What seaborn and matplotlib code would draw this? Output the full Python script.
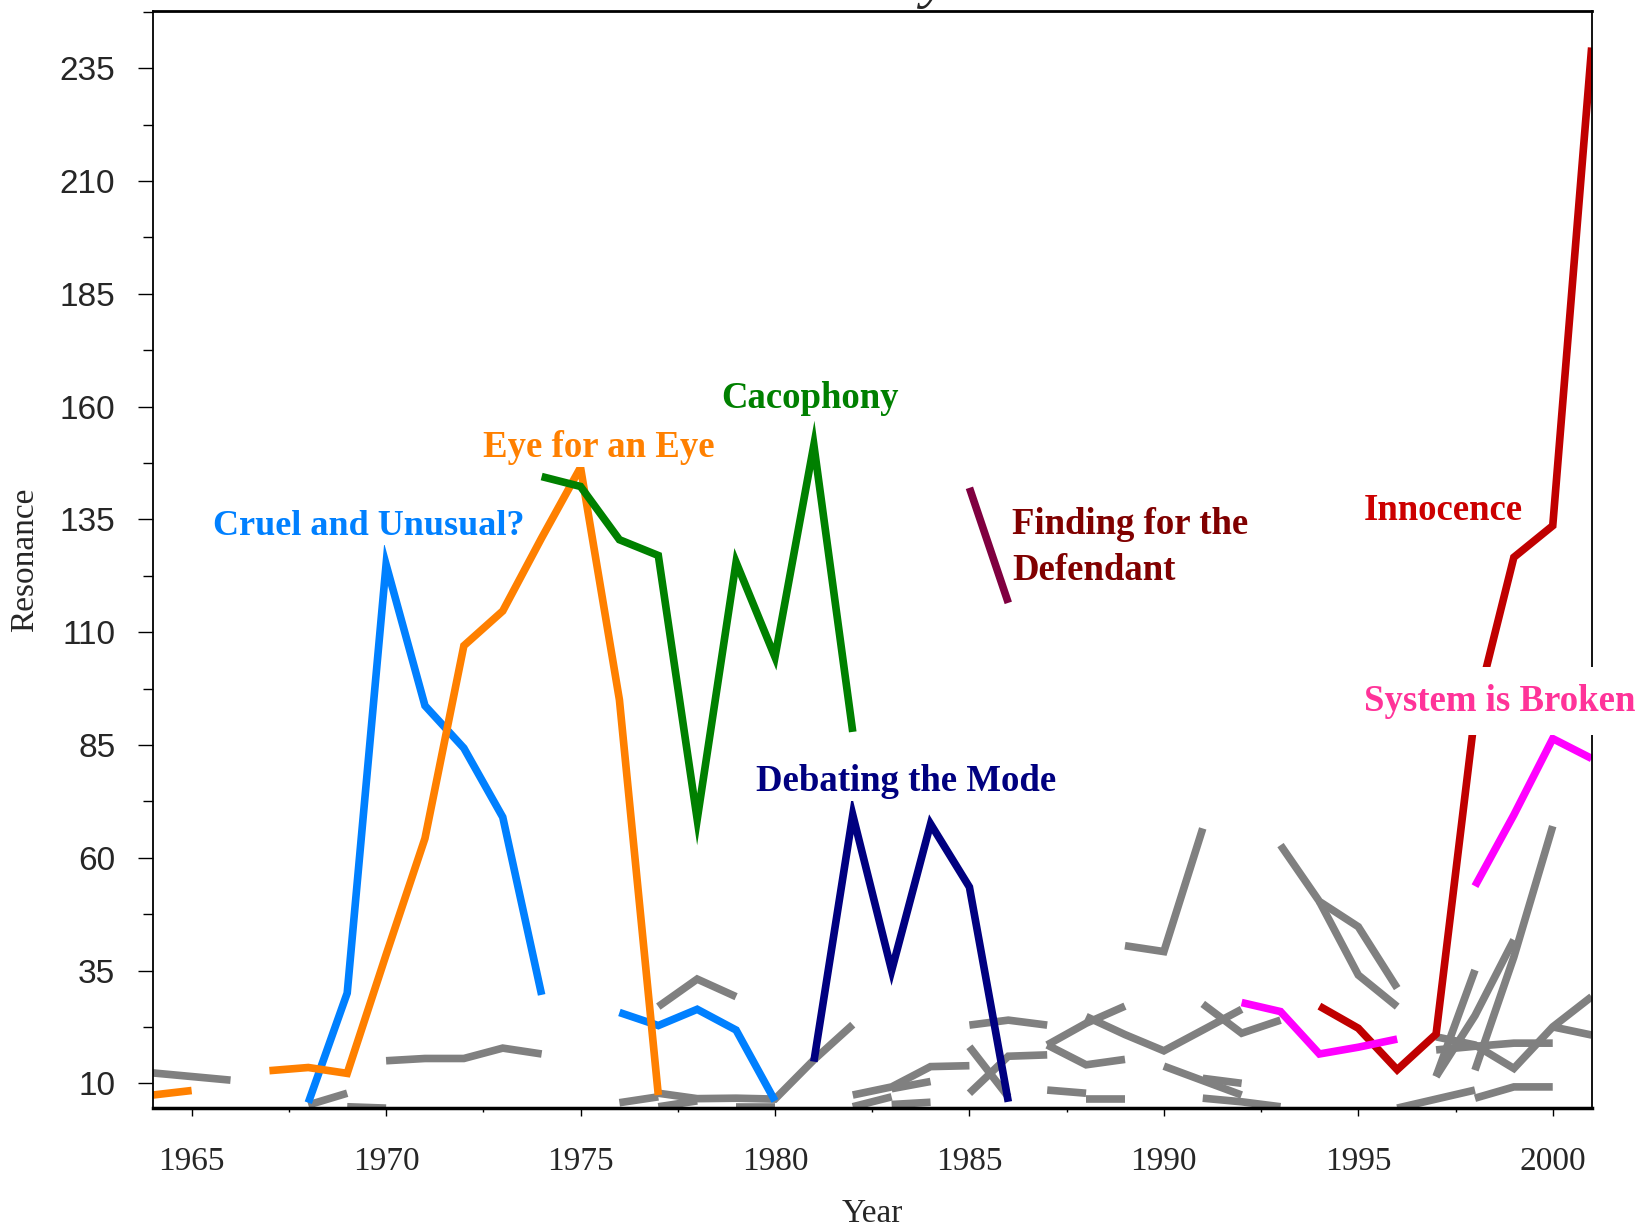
import numpy as np
import pandas as pd
import matplotlib
matplotlib.use("Agg")
import matplotlib.pyplot as plt
import seaborn as sns

# ---------------- data: (first year, values) per contiguous segment ----------------
cruel_unusual = [(1968, [5.7, 30.0, 125.0, 93.7, 84.3, 69.0, 29.6]),
                 (1976, [25.7, 22.8, 26.4, 21.8, 6.1])]
eye_for_eye = [(1964, [7.4, 8.4]),
               (1967, [12.8, 13.5, 12.2, 38.5, 64.3, 107.0, 114.7, 130.9, 146.5, 95.0, 7.4])]
cacophony = [(1974, [144.5, 142.3, 130.5, 127.0, 68.5, 125.5, 104.5, 151.5, 87.9])]
debating_mode = [(1981, [14.8, 69.5, 35.0, 67.5, 53.5, 5.9])]
finding_defendant = [(1985, [142.0, 116.5])]
innocence = [(1994, [27.1, 22.2, 13.0, 20.9, 92.0, 126.6, 133.6, 239.6])]
system_broken = [(1992, [27.9, 25.9, 16.5, 18.0, 19.8]),
                 (1998, [53.7, 69.5, 86.4, 82.0])]

other_frames = [
    (1964, [12.3, 11.5, 10.7]),
    (1968, [5.2, 7.8]),
    (1969, [4.8, 4.5]),
    (1970, [15.0, 15.5, 15.5, 17.8, 16.5]),
    (1976, [5.7, 7.0]),
    (1977, [7.8, 6.6, 6.7, 6.5, 15.2, 23.0]),
    (1977, [4.8, 6.1]),
    (1979, [4.8, 4.8]),
    (1977, [27.0, 33.1, 29.2]),
    (1982, [7.4, 9.2, 13.7, 13.9]),
    (1982, [4.8, 7.0]),
    (1983, [5.3, 5.8]),
    (1983, [8.8, 10.4]),
    (1985, [18.1, 7.0]),
    (1985, [7.8, 16.0, 16.3]),
    (1985, [22.9, 24.0, 22.9]),
    (1987, [18.5, 23.3, 27.1]),
    (1987, [18.5, 14.1, 15.3]),
    (1987, [8.5, 7.8]),
    (1988, [6.6, 6.6]),
    (1988, [24.8, 20.8, 17.2, 21.8, 26.4]),
    (1989, [40.5, 39.2, 66.5]),
    (1990, [13.8, 10.6, 7.4]),
    (1991, [11.1, 10.0]),
    (1991, [6.7, 5.9, 4.8]),
    (1991, [27.6, 21.1, 24.0]),
    (1993, [62.8, 50.3, 44.7, 31.1]),
    (1994, [50.3, 34.0, 27.0]),
    (1996, [4.5, 6.5, 8.5]),
    (1998, [6.7, 9.2, 9.2]),
    (1998, [12.9, 38.0, 67.0]),
    (1997, [11.5, 25.0, 41.8]),
    (1997, [11.5, 35.1]),
    (1997, [20.3, 18.5, 13.3, 22.5, 29.2]),
    (1997, [17.4, 18.2, 18.9, 18.9]),
    (2000, [22.5, 20.7]),
]

frame_names = ["Cruel and Unusual?", "Eye for an Eye", "Cacophony", "Debating the Mode",
               "Finding for the\nDefendant", "Innocence", "System is Broken"]
frame_segments = [cruel_unusual, eye_for_eye, cacophony, debating_mode,
                  finding_defendant, innocence, system_broken]
line_colors = ["#0080FF", "#FF8000", "#008000", "#000080", "#800040", "#C00000", "#FF00FF"]
label_colors = ["#0080FF", "#FF8000", "#008000", "#000080", "#800000", "#CC0000", "#FF3399"]
label_x = [1965.55, 1972.5, 1978.62, 1979.5, 1986.1, 1995.15, 1995.15]
label_y = [131.5, 148.8, 159.7, 74.8, 121.6, 134.9, 92.6]
label_size = [26, 26.5, 26.5, 26.5, 26.5, 26.5, 26.5]
label_pad = [0.05, 0.05, 0.05, 0.05, 0.05, 0.05, 0.45]

x_ticks = [1965, 1970, 1975, 1980, 1985, 1990, 1995, 2000]
y_ticks = [10, 35, 60, 85, 110, 135, 160, 185, 210, 235]


def to_long(name, segs):
    rows = []
    for k, (y0, vals) in enumerate(segs):
        for i, v in enumerate(vals):
            rows.append({"frame": name, "seg": f"{name}#{k}", "year": y0 + i, "value": v})
    return rows


color_rows = []
for nm, sg in zip(frame_names, frame_segments):
    color_rows += to_long(nm, sg)
df_color = pd.DataFrame(color_rows)
df_other = pd.DataFrame(to_long("Other", other_frames))

# ---------------- figure ----------------
sns.set_theme(style="ticks")
plt.rcParams["font.family"] = ["Liberation Serif", "DejaVu Serif"]

fig = plt.figure(figsize=(16.39, 12.28), dpi=100)
ax = fig.add_axes([0.0932, 0.0980, 0.9711 - 0.0932, 0.99104 - 0.0980])

line_kw = dict(lw=5.5, solid_capstyle="butt", solid_joinstyle="miter")
sns.lineplot(data=df_other, x="year", y="value", hue="frame", units="seg",
             estimator=None, palette={"Other": "#808080"}, legend=False, ax=ax, **line_kw)
sns.lineplot(data=df_color, x="year", y="value", hue="frame", units="seg",
             estimator=None, hue_order=frame_names,
             palette=dict(zip(frame_names, line_colors)), legend=False, ax=ax, **line_kw)

for nm, c, lx, ly, fs, pd_ in zip(frame_names, label_colors, label_x, label_y,
                                  label_size, label_pad):
    ax.text(lx, ly, nm, color=c, fontsize=fs, fontweight="bold", ha="left", va="baseline",
            family="Liberation Serif", linespacing=1.4, zorder=5, clip_on=False,
            bbox=dict(boxstyle=f"square,pad={pd_}", fc="white", ec="none"))

ax.set_xlim(1964, 2001)
ax.set_ylim(4.6, 247.7)
ax.set_xticks(x_ticks)
ax.set_xticks(np.arange(1967.5, 2001, 5), minor=True)
ax.set_yticks(y_ticks)
ax.set_yticks(np.arange(22.5, 248, 25), minor=True)
ax.set_xticklabels([str(v) for v in x_ticks], family="Liberation Serif", fontsize=24)
ax.set_yticklabels([str(v) for v in y_ticks], family="Liberation Sans", fontsize=24)

ax.tick_params(axis="y", which="major", direction="out", length=11, width=1, pad=16, color="black")
ax.tick_params(axis="y", which="minor", direction="out", length=7, width=1, color="black")
ax.tick_params(axis="x", which="major", direction="out", length=6, width=1, pad=22, color="black")
ax.tick_params(axis="x", which="minor", direction="out", length=3, width=1, color="black")

for side, w in [("left", 1.3), ("top", 2.0), ("right", 1.3), ("bottom", 2.5)]:
    ax.spines[side].set_visible(True)
    ax.spines[side].set_color("black")
    ax.spines[side].set_linewidth(w)

ax.set_xlabel("Year", fontsize=24, family="Liberation Serif")
ax.set_ylabel("Resonance", fontsize=24, family="Liberation Serif")
ax.xaxis.set_label_coords(0.5, -0.083)
ax.yaxis.set_label_coords(-0.078, 0.5)
ax.grid(False)

# title: only its lowest sliver is inside the canvas, as in the reference
fig.text(0.532, 1 + 3 / 1228, "Resonance by Frame", ha="center", va="baseline",
         fontsize=42, style="italic", family="Liberation Serif")

fig.savefig("out.png", dpi=100, facecolor="white")
